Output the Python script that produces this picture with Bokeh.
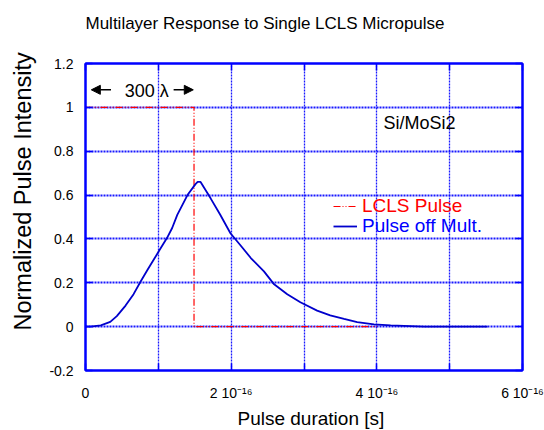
import numpy as np
from bokeh.plotting import figure
from bokeh.models import (Range1d, LinearAxis, FixedTicker, CustomJSTickFormatter, Grid,
                          Label, Arrow, NormalHead, Legend, LegendItem, Title)
from bokeh.embed import file_html
from bokeh.resources import INLINE

# time axis in units of 1e-16 s
lcls_t = [0.0, 1.49, 1.49, 4.0]
lcls_i = [1.0, 1.0, 0.0, 0.0]

mult_t = [0.0, 0.07, 0.21, 0.34, 0.43, 0.55, 0.66, 0.755, 0.85, 0.94, 1.0, 1.12, 1.19,
          1.26, 1.40, 1.51, 1.54, 1.58, 1.72, 1.85, 1.99, 2.13, 2.27, 2.45, 2.59, 2.77,
          2.95, 3.18, 3.36, 3.55, 3.73, 3.96, 4.19, 4.65, 5.52]
mult_i = [0.0, 0.0, 0.006, 0.022, 0.048, 0.096, 0.148, 0.205, 0.258, 0.307, 0.34, 0.405, 0.45,
          0.51, 0.60, 0.65, 0.66, 0.66, 0.584, 0.51, 0.426, 0.37, 0.313, 0.252, 0.193, 0.148,
          0.111, 0.073, 0.051, 0.035, 0.021, 0.01, 0.006, 0.0, 0.0]

x_ticks = [0, 1, 2, 3, 4, 5, 6]
y_ticks = [-0.2, 0.0, 0.2, 0.4, 0.6, 0.8, 1.0, 1.2]

FONT = "Liberation Sans"
BLUE = "#0000ff"
LINE_BLUE = "#0000cc"
RED = "#ff0000"

p = figure(width=544, height=430, output_backend="svg", toolbar_location=None,
           x_range=Range1d(0, 6), y_range=Range1d(-0.2, 1.2),
           min_border_left=85, min_border_right=22, min_border_top=63, min_border_bottom=56,
           x_axis_type=None, y_axis_type=None, title=None)
p.background_fill_color = "white"
p.border_fill_color = "white"
p.outline_line_color = BLUE
p.outline_line_width = 2

xfmt = CustomJSTickFormatter(code="""
const v = Math.round(tick);
if (v == 0) return "0";
if (v % 2) return "";
return v + " 10\u207B\u00B9\u2076";
""")
yfmt = CustomJSTickFormatter(code="return Number(tick.toFixed(2)).toString();")
blank = CustomJSTickFormatter(code="return '';")


def style(ax, fmt):
    ax.formatter = fmt
    ax.axis_line_color = BLUE
    ax.axis_line_width = 2
    ax.major_tick_line_color = BLUE
    ax.minor_tick_line_color = BLUE
    ax.major_tick_line_width = 1.5
    ax.minor_tick_line_width = 1.5
    ax.major_tick_in = 7
    ax.major_tick_out = 0
    ax.minor_tick_in = 4
    ax.minor_tick_out = 0
    ax.major_label_text_font = FONT
    ax.major_label_text_color = "black"


xb = LinearAxis(ticker=FixedTicker(ticks=x_ticks, num_minor_ticks=5))
style(xb, xfmt)
xb.major_label_text_font_size = "14px"
xb.major_label_standoff = 14
p.add_layout(xb, "below")

xt = LinearAxis(ticker=FixedTicker(ticks=x_ticks, num_minor_ticks=5))
style(xt, blank)
xt.major_label_standoff = 0
p.add_layout(xt, "above")

yl = LinearAxis(ticker=FixedTicker(ticks=y_ticks, num_minor_ticks=4))
style(yl, yfmt)
yl.major_label_text_font_size = "14px"
yl.major_label_standoff = 12
p.add_layout(yl, "left")

yr = LinearAxis(ticker=FixedTicker(ticks=y_ticks, num_minor_ticks=4))
style(yr, blank)
yr.major_label_standoff = 0
p.add_layout(yr, "right")

for dim, tk, w in ((0, x_ticks, 1.3), (1, y_ticks, 1.8)):
    p.add_layout(Grid(dimension=dim, ticker=FixedTicker(ticks=tk), grid_line_color=BLUE,
                      grid_line_dash="2 1", grid_line_width=w, grid_line_alpha=0.9))

# titles (trailing empty line keeps the text away from the frame, as in the original)
p.add_layout(Title(text="Multilayer Response to Single LCLS Micropulse\n", align="left",
                   text_font=FONT, text_font_size="17px", text_font_style="normal",
                   text_line_height=1.5, text_color="black", standoff=4), "above")
p.add_layout(Title(text="Pulse duration [s]", align="left", offset=152, standoff=4,
                   text_font=FONT, text_font_size="19px", text_font_style="normal",
                   text_color="black"), "below")
p.add_layout(Title(text="Normalized Pulse Intensity\n", align="left", offset=40, standoff=0,
                   text_font=FONT, text_font_size="23.5px", text_font_style="normal",
                   text_line_height=0.42, text_color="black"), "left")

r_lcls = p.line(lcls_t, lcls_i, line_color=RED, line_width=1.2, line_dash="7 2 1 2 1 2")
r_mult = p.line(mult_t, mult_i, line_color=LINE_BLUE, line_width=1.8)

# legends (one per entry so each text takes the colour of its line)
for r, lab, col, vy in ((r_lcls, "LCLS Pulse", RED, 153), (r_mult, "Pulse off Mult.", BLUE, 133)):
    lg = Legend(items=[LegendItem(label=lab, renderers=[r])], location=(248, vy),
                padding=0, margin=0, border_line_color=None, background_fill_alpha=0,
                glyph_width=24, glyph_height=20, label_height=20, label_standoff=5,
                label_text_font=FONT, label_text_font_size="19px", label_text_color=col)
    p.add_layout(lg, "center")

p.add_layout(Label(x=4.09, y=0.93, text="Si/MoSi2", text_font=FONT, text_font_size="18px",
                   text_baseline="middle", text_align="left", text_color="black"))
p.add_layout(Label(x=0.84, y=1.075, text="300 λ", text_font=FONT, text_font_size="18px",
                   text_baseline="middle", text_align="center", text_color="black"))
p.add_layout(Arrow(end=NormalHead(size=9, fill_color="black", line_color="black"),
                   x_start=0.35, y_start=1.08, x_end=0.08, y_end=1.08,
                   line_color="black", line_width=1.5))
p.add_layout(Arrow(end=NormalHead(size=9, fill_color="black", line_color="black"),
                   x_start=1.21, y_start=1.08, x_end=1.48, y_end=1.08,
                   line_color="black", line_width=1.5))

open("out.html", "w").write(file_html(p, INLINE))
